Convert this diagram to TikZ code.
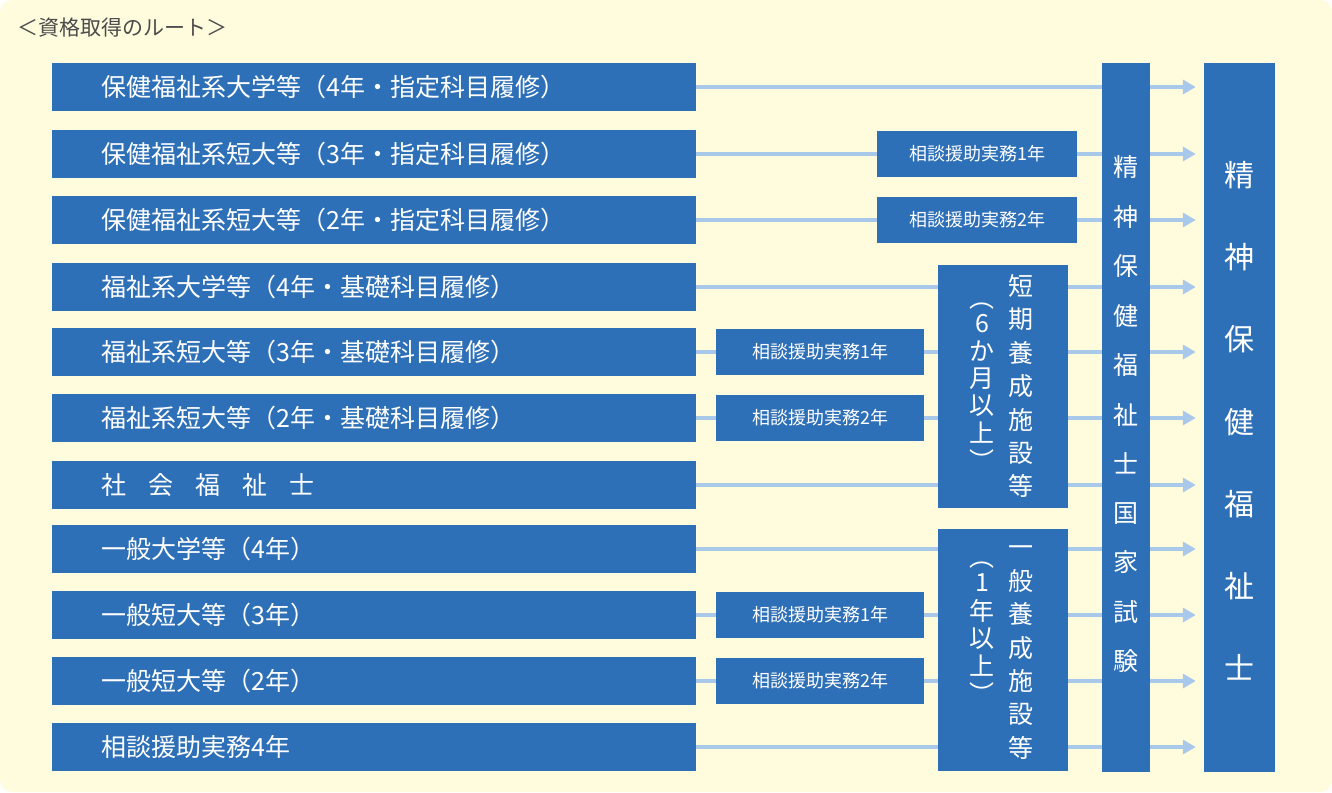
\documentclass[tikz,border=0pt]{standalone}
\usepackage{fontspec}
\setmainfont{Noto Sans CJK JP}
\usetikzlibrary{arrows.meta}
\definecolor{boxblue}{HTML}{2E70B7}
\definecolor{linkblue}{HTML}{A9C9EA}
\definecolor{paper}{HTML}{FEFCDD}
\tikzset{
  route/.style={draw=none, fill=boxblue, text=white, minimum height=48pt, inner sep=0pt},
  rowbox/.style={route, anchor=west, minimum width=644pt, text width=611pt, font=\fontsize{25}{25}\selectfont},
  practice/.style={route, minimum height=46pt, font=\fontsize{18}{18}\selectfont},
  link/.style={linkblue, line width=4.5pt},
  goal/.style={link, -{Triangle[length=13pt,width=14pt]}}
}
\newcommand{\stackchars}[2]{\fontsize{#1}{#1}\selectfont\def\arraystretch{1}\begin{tabular}{@{}c@{}}#2\end{tabular}}
\begin{document}
\begin{tikzpicture}[x=1pt, y=-1pt]
  \fill[paper, rounded corners=12pt] (0,0) rectangle (1332,792);
  \useasboundingbox (0,0) rectangle (1332,792);
  \node[anchor=west, text=black!70, font=\fontsize{21}{21}\selectfont] (title) at (14,28) {＜資格取得のルート＞};

  % left column
  \node[rowbox] (r1) at (52,87) {\hspace*{33pt}保健福祉系大学等（4年・指定科目履修）};
  \node[rowbox] (r2) at (52,154) {\hspace*{33pt}保健福祉系短大等（3年・指定科目履修）};
  \node[rowbox] (r3) at (52,220) {\hspace*{33pt}保健福祉系短大等（2年・指定科目履修）};
  \node[rowbox] (r4) at (52,287) {\hspace*{33pt}福祉系大学等（4年・基礎科目履修）};
  \node[rowbox] (r5) at (52,352) {\hspace*{33pt}福祉系短大等（3年・基礎科目履修）};
  \node[rowbox] (r6) at (52,418) {\hspace*{33pt}福祉系短大等（2年・基礎科目履修）};
  \node[rowbox] (r7) at (52,485) {\hspace*{33pt}社\hspace{22pt}会\hspace{22pt}福\hspace{22pt}祉\hspace{22pt}士};
  \node[rowbox] (r8) at (52,549) {\hspace*{33pt}一般大学等（4年）};
  \node[rowbox] (r9) at (52,615) {\hspace*{33pt}一般短大等（3年）};
  \node[rowbox] (r10) at (52,681) {\hspace*{33pt}一般短大等（2年）};
  \node[rowbox] (r11) at (52,747) {\hspace*{33pt}相談援助実務4年};

  % practice boxes
  \node[practice, minimum width=200pt] (p2) at (977,154) {相談援助実務1年};
  \node[practice, minimum width=200pt] (p3) at (977,220) {相談援助実務2年};
  \node[practice, minimum width=208pt] (p5) at (820,352) {相談援助実務1年};
  \node[practice, minimum width=208pt] (p6) at (820,418) {相談援助実務2年};
  \node[practice, minimum width=208pt] (p9) at (820,615) {相談援助実務1年};
  \node[practice, minimum width=208pt] (p10) at (820,681) {相談援助実務2年};

  % training schools
  \node[route, minimum width=130pt, minimum height=243pt] (short) at (1003,386.5) {};
  \node[text=white, inner sep=0pt] (shortA) at (1021,389) {\stackchars{25}{短\\[5pt]期\\[5pt]養\\[5pt]成\\[5pt]施\\[5pt]設\\[5pt]等}};
  \node[text=white, inner sep=0pt] (shortB) at (982,384) {\stackchars{25}{︵\\6\\か\\月\\以\\上\\︶}};
  \node[route, minimum width=130pt, minimum height=242pt] (general) at (1003,650) {};
  \node[text=white, inner sep=0pt] (generalA) at (1021,652) {\stackchars{25}{一\\[5pt]般\\[5pt]養\\[5pt]成\\[5pt]施\\[5pt]設\\[5pt]等}};
  \node[text=white, inner sep=0pt] (generalB) at (982,630) {\stackchars{25}{︵\\1\\年\\以\\上\\︶}};

  % exam and qualification
  \node[route, minimum width=48pt, minimum height=709pt] (exam) at (1126,417.5) {};
  \node[text=white, inner sep=0pt] (examT) at (1126,417) {\stackchars{25}{精\\[21pt]神\\[21pt]保\\[21pt]健\\[21pt]福\\[21pt]祉\\[21pt]士\\[21pt]国\\[21pt]家\\[21pt]試\\[21pt]験}};
  \node[route, minimum width=71pt, minimum height=709pt] (goal) at (1239.5,417.5) {};
  \node[text=white, inner sep=0pt] (goalT) at (1239.5,425) {\stackchars{30}{精\\[48pt]神\\[48pt]保\\[48pt]健\\[48pt]福\\[48pt]祉\\[48pt]士}};

  % connectors
  \draw[link] (r1.east) -- (r1.east -| exam.west);
  \draw[link] (r2.east) -- (p2.west);
  \draw[link] (p2.east) -- (p2.east -| exam.west);
  \draw[link] (r3.east) -- (p3.west);
  \draw[link] (p3.east) -- (p3.east -| exam.west);
  \foreach \r in {r4,r7,r8,r11} {
    \draw[link] (\r.east) -- (\r.east -| short.west);
  }
  \foreach \p in {p5,p6,p9,p10} {
    \draw[link] (\p.west -| r1.east) -- (\p.west);
    \draw[link] (\p.east) -- (\p.east -| short.west);
  }
  \foreach \r in {r4,r5,r6,r7} {
    \draw[link] (\r.east -| short.east) -- (\r.east -| exam.west);
  }
  \foreach \r in {r8,r9,r10,r11} {
    \draw[link] (\r.east -| general.east) -- (\r.east -| exam.west);
  }
  \foreach \r in {r1,r2,r3,r4,r5,r6,r7,r8,r9,r10,r11} {
    \draw[goal] (\r.east -| exam.east) -- ([xshift=-8pt]\r.east -| goal.west);
  }
\end{tikzpicture}
\end{document}
